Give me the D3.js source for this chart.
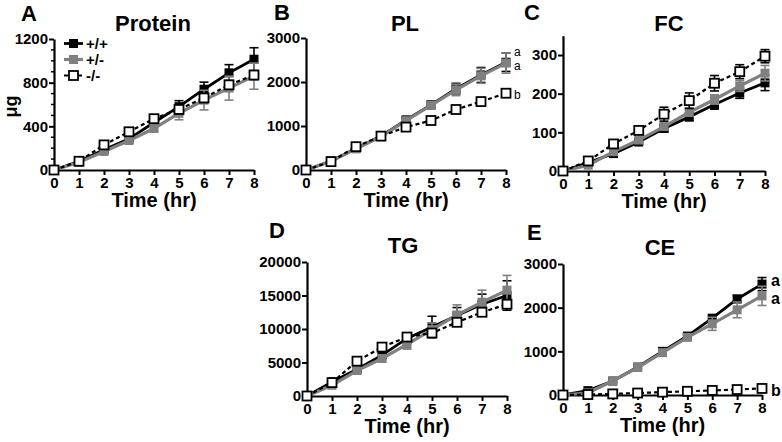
<!DOCTYPE html>
<html><head><meta charset="utf-8">
<script src="https://cdn.jsdelivr.net/npm/d3@7"></script>
<style>
body{margin:0;background:#fff}
svg{display:block}
text{font-family:"Liberation Sans",Arial,Helvetica,sans-serif;font-weight:bold;fill:#000}
</style>
</head><body>
<svg id="c" width="782" height="442"></svg>
<script>
// ---------- data ----------
const hours = [0,1,2,3,4,5,6,7,8];
const genotypes = ["+/+","+/-","-/-"];
const panelLetters = ["A","B","C","D","E"];
const panelTitles = ["Protein","PL","FC","TG","CE"];
const yTicks = [
  [0,400,800,1200],
  [0,1000,2000,3000],
  [0,100,200,300],
  [0,5000,10000,15000,20000],
  [0,1000,2000,3000]
];
const yMinorStep = [100, null, null, null, null];
const yMax = [1200, 3000, 350, 20000, 3000];

const proteinWT  = [0,80,185,285,435,580,740,890,1015];
const proteinWTe = [0,15,20,20,30,55,65,75,105];
const proteinHet = [0,70,170,270,380,520,640,750,860];
const proteinHete= [0,10,20,20,25,60,90,110,120];
const proteinKO  = [0,80,230,350,470,555,660,780,870];
const proteinKOe = [0,10,15,20,30,40,40,40,40];

const plWT  = [0,205,490,770,1140,1480,1850,2160,2450];
const plWTe = [0,30,40,40,60,80,120,170,210];
const plHet = [0,200,480,760,1120,1470,1820,2140,2430];
const plHete= [0,30,40,40,60,80,130,170,230];
const plKO  = [0,190,530,770,975,1125,1375,1555,1745];
const plKOe = [0,20,30,30,30,40,30,30,30];

const fcWT  = [0,22,45,75,110,140,172,202,228];
const fcWTe = [0,3,5,6,8,10,12,14,20];
const fcHet = [0,15,50,80,115,152,185,220,253];
const fcHete= [0,3,5,6,8,10,12,14,20];
const fcKO  = [0,26,70,105,147,182,227,257,297];
const fcKOe = [0,4,6,10,18,20,20,18,17];

const tgWT  = [0,2100,4000,6100,8600,10300,12000,13700,15000];
const tgWTe = [0,300,300,500,800,1600,1200,1500,2200];
const tgHet = [0,1600,3800,5600,7700,9900,12100,14000,15800];
const tgHete= [0,300,400,500,700,1000,1500,1800,2200];
const tgKO  = [0,2000,5200,7300,8800,9400,11000,12500,13700];
const tgKOe = [0,200,300,400,500,500,500,400,400];

const ceWT  = [0,100,320,640,1000,1350,1760,2200,2540];
const ceWTe = [0,20,30,30,40,50,60,80,150];
const ceHet = [0,50,320,630,970,1320,1630,1950,2270];
const ceHete= [0,20,30,30,40,60,150,180,220];
const ceKO  = [0,10,25,45,65,85,105,125,150];
const ceKOe = [0,5,5,5,10,10,10,10,15];

const panelData = [
  [[proteinWT,proteinWTe],[proteinHet,proteinHete],[proteinKO,proteinKOe]],
  [[plWT,plWTe],[plHet,plHete],[plKO,plKOe]],
  [[fcWT,fcWTe],[fcHet,fcHete],[fcKO,fcKOe]],
  [[tgWT,tgWTe],[tgHet,tgHete],[tgKO,tgKOe]],
  [[ceWT,ceWTe],[ceHet,ceHete],[ceKO,ceKOe]]
];
const statLabelsB = ["a","a","b"];
const statLabelsE = ["a","a","b"];

// ---------- layout ----------
const layout = [
  {x0:54, x1:254, y0:170, y1:39,  letter:[21,21], title:[153,31]},
  {x0:306,x1:506, y0:170, y1:38,  letter:[274,20], title:[405,31]},
  {x0:563,x1:765, y0:171, y1:35.7,letter:[524,20], title:[669,31]},
  {x0:307,x1:507, y0:396, y1:262, letter:[269,238], title:[403,253]},
  {x0:563,x1:762, y0:395, y1:264, letter:[527,240], title:[660,255]}
];
const styles = [
  {color:"#000", width:2.8, dash:null, fill:"#000", size:9, err:"#000"},
  {color:"#808080", width:3.2, dash:null, fill:"#808080", size:9, err:"#808080"},
  {color:"#000", width:2.2, dash:"4,3", fill:"#fff", size:9, err:"#000"}
];

const svg = d3.select("#c");

panelData.forEach((series, p) => {
  const L = layout[p];
  const x = d3.scaleLinear().domain([0,8]).range([L.x0, L.x1]);
  const y = d3.scaleLinear().domain([0,yMax[p]]).range([L.y0, L.y1]);
  const g = svg.append("g");

  if (yMinorStep[p]) {
    const minors = d3.range(0, yMax[p]+1, yMinorStep[p]).filter(v => !yTicks[p].includes(v));
    g.selectAll(".minor").data(minors).enter().append("line")
      .attr("x1", L.x0).attr("x2", L.x0-3)
      .attr("y1", d=>y(d)).attr("y2", d=>y(d))
      .attr("stroke","#000").attr("stroke-width",1.5);
  }

  const ya = d3.axisLeft(y).tickValues(yTicks[p]).tickSize(5).tickSizeOuter(0).tickPadding(1).tickFormat(d3.format("d"));
  const yg = g.append("g").attr("transform",`translate(${L.x0},0)`).call(ya);
  const xa = d3.axisBottom(x).tickValues(hours).tickSize(5).tickSizeOuter(0).tickPadding(2).tickFormat(d3.format("d"));
  const xg = g.append("g").attr("transform",`translate(0,${L.y0})`).call(xa);
  [yg,xg].forEach(a => {
    a.select(".domain").attr("stroke","#000").attr("stroke-width",2.2);
    a.selectAll(".tick line").attr("stroke","#000").attr("stroke-width",2);
    a.selectAll(".tick text").style("font-size","15px").style("font-weight","bold").attr("fill","#000")
      .style("font-family",'"Liberation Sans",Arial,sans-serif');
  });

  series.forEach((s, i) => {
    const st = styles[i];
    const vals = s[0], errs = s[1];
    const pts = hours.map((h,k)=>({h, v:vals[k], e:errs[k]}));
    const eg = g.append("g");
    pts.filter(d=>d.e>0).forEach(d => {
      const cx = x(d.h);
      eg.append("line").attr("x1",cx).attr("x2",cx).attr("y1",y(d.v-d.e)).attr("y2",y(d.v+d.e))
        .attr("stroke",st.err).attr("stroke-width",1.6);
      [d.v-d.e, d.v+d.e].forEach(v => eg.append("line").attr("x1",cx-4.5).attr("x2",cx+4.5)
        .attr("y1",y(v)).attr("y2",y(v)).attr("stroke",st.err).attr("stroke-width",1.6));
    });
    g.append("path").datum(pts)
      .attr("d", d3.line().x(d=>x(d.h)).y(d=>y(d.v)))
      .attr("fill","none").attr("stroke",st.color).attr("stroke-width",st.width)
      .attr("stroke-dasharray",st.dash);
    g.selectAll(null).data(pts).enter().append("rect")
      .attr("x",d=>x(d.h)-st.size/2).attr("y",d=>y(d.v)-st.size/2)
      .attr("width",st.size).attr("height",st.size)
      .attr("fill",st.fill)
      .attr("stroke", i===2 ? "#000" : "none").attr("stroke-width",1.8);
  });

  svg.append("text").attr("x",L.letter[0]).attr("y",L.letter[1]).style("font-size","22px").text(panelLetters[p]);
  svg.append("text").attr("x",L.title[0]).attr("y",L.title[1]).attr("text-anchor","middle").style("font-size","22px").text(panelTitles[p]);
  svg.append("text").attr("x",(L.x0+L.x1)/2).attr("y",L.y0+37).attr("text-anchor","middle").style("font-size","20px").text("Time (hr)");

  if (p===1) {
    const offs = [-10,3,2];
    statLabelsB.forEach((t,i)=>{
      svg.append("text").attr("x",L.x1+8).attr("y",y(series[i][0][8])+offs[i]).attr("dy","0.35em")
        .style("font-size","12px").style("font-weight","normal").text(t);
    });
  }
  if (p===4) {
    const offs = [-4,3,2];
    statLabelsE.forEach((t,i)=>{
      svg.append("text").attr("x",L.x1+9).attr("y",y(series[i][0][8])+offs[i]).attr("dy","0.35em")
        .style("font-size","16px").text(t);
    });
  }
  if (p===0) {
    svg.append("text").attr("transform",`translate(17,${(L.y0+L.y1)/2+2}) rotate(-90)`)
      .attr("text-anchor","middle").style("font-size","18px").text("μg");
    const rows = [43.5,59.5,75.5];
    genotypes.forEach((gname,i)=>{
      const st = styles[i];
      svg.append("line").attr("x1",64).attr("x2",83).attr("y1",rows[i]).attr("y2",rows[i])
        .attr("stroke",st.color).attr("stroke-width",st.width).attr("stroke-dasharray",st.dash);
      svg.append("rect").attr("x",73.5-st.size/2).attr("y",rows[i]-st.size/2).attr("width",st.size).attr("height",st.size)
        .attr("fill",st.fill).attr("stroke", i===2?"#000":"none").attr("stroke-width",1.8);
      svg.append("text").attr("x",86).attr("y",rows[i]).attr("dy","0.36em").style("font-size","15px").text(gname);
    });
  }
});
</script>
</body></html>
